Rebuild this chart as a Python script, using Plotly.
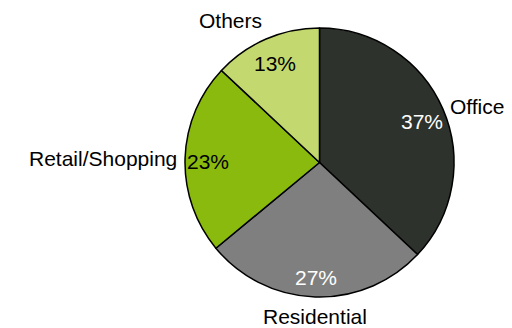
import math
import plotly.graph_objects as go

categories = ["Office", "Residential", "Retail/Shopping", "Others"]
shares = [37, 27, 23, 13]
colors = ["#2e322d", "#7f7f7f", "#8aba0e", "#c3d970"]
pct_colors = ["white", "white", "black", "black"]

W, H = 512, 328
cx, cy, R = 319.5, 162.5, 134.5  # pie centre / radius in pixels

fig = go.Figure(go.Pie(
    labels=categories, values=shares, sort=False, direction="clockwise",
    rotation=0, textinfo="none", hoverinfo="label+percent",
    marker=dict(colors=colors, line=dict(color="black", width=1.5)),
    domain=dict(x=[(cx - R) / W, (cx + R) / W], y=[1 - (cy + R) / H, 1 - (cy - R) / H]),
    showlegend=False,
))

total = sum(shares)
cum = 0
ann = []
font = "Liberation Sans, Arial, sans-serif"
for name, v, pc in zip(categories, shares, pct_colors):
    mid = (cum + v / 2) / total * 2 * math.pi
    cum += v
    s, c = math.sin(mid), math.cos(mid)
    # percentage inside
    r_in = 0.83 * R
    px, py = cx + s * r_in, cy - c * r_in
    ann.append(dict(x=px / W, y=1 - py / H, xref="paper", yref="paper",
                    text=f"{round(v / total * 100)}%", showarrow=False,
                    xanchor="center", yanchor="middle", yshift=-3,
                    font=dict(family=font, size=21, color=pc)))
    # category label outside
    r_out = R + 6
    px, py = cx + s * r_out, cy - c * r_out
    xa = "left" if s > 0.2 else ("right" if s < -0.2 else "center")
    ya = "bottom" if c > 0.5 else ("top" if c < -0.5 else "middle")
    ann.append(dict(x=px / W, y=1 - py / H, xref="paper", yref="paper",
                    text=name, showarrow=False, xanchor=xa, yanchor=ya,
                    font=dict(family=font, size=21, color="black")))

fig.update_layout(width=W, height=H, margin=dict(l=0, r=0, t=0, b=0),
                  paper_bgcolor="white", plot_bgcolor="white", annotations=ann)
fig.write_html("out.html")
